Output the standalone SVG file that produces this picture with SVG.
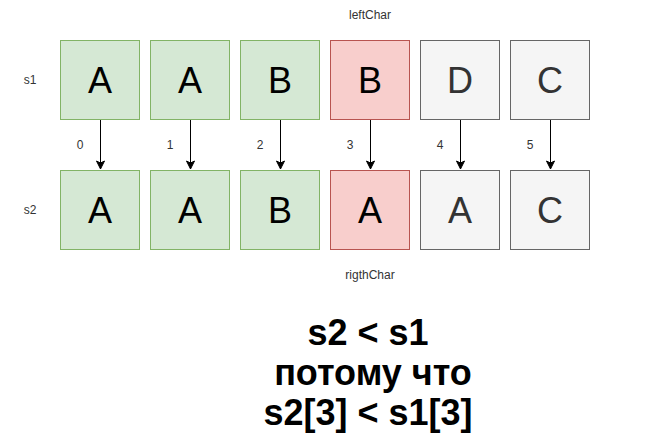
<svg xmlns="http://www.w3.org/2000/svg" width="667" height="441" viewBox="0 0 667 441">
<style>
.g{fill:#d5e8d4;stroke:#82b366;stroke-width:1}
.r{fill:#f8cecc;stroke:#b85450;stroke-width:1}
.n{fill:#f5f5f5;stroke:#666666;stroke-width:1}
.big{font-family:"Liberation Sans",Arial,sans-serif;font-size:36px;text-anchor:middle;dominant-baseline:central}
.dark{fill:#000}
.gray{fill:#333333}
.lbl{font-family:"Liberation Sans",Arial,sans-serif;font-size:12px;fill:#333333;text-anchor:middle;dominant-baseline:central}
.res{font-family:"Liberation Sans",Arial,sans-serif;font-size:36px;font-weight:bold;fill:#000;text-anchor:middle}
.edge{stroke:#000;stroke-width:1;fill:none}
</style>
<defs>
<marker id="arr" markerWidth="10" markerHeight="10" viewBox="0 0 10 10" refX="9" refY="5" orient="auto" markerUnits="userSpaceOnUse">
<path d="M1,1 L9,5 L1,9 L3,5 Z" fill="#000" stroke="#000" stroke-width="1"/>
</marker>
</defs>
<g id="labels">
<text class="lbl" x="30" y="80">s1</text>
<text class="lbl" x="30" y="210">s2</text>
<text class="lbl" x="370" y="15">leftChar</text>
<text class="lbl" x="370" y="275">rigthChar</text>
<text class="lbl" x="80" y="145">0</text>
<text class="lbl" x="170" y="145">1</text>
<text class="lbl" x="260" y="145">2</text>
<text class="lbl" x="350" y="145">3</text>
<text class="lbl" x="440" y="145">4</text>
<text class="lbl" x="530" y="145">5</text>
</g>
<g id="s1-0"><rect class="g" x="60.5" y="40.5" width="79" height="79"/><text class="big dark" x="100" y="80">A</text></g>
<g id="s1-1"><rect class="g" x="150.5" y="40.5" width="79" height="79"/><text class="big dark" x="190" y="80">A</text></g>
<g id="s1-2"><rect class="g" x="240.5" y="40.5" width="79" height="79"/><text class="big dark" x="280" y="80">B</text></g>
<g id="s1-3"><rect class="r" x="330.5" y="40.5" width="79" height="79"/><text class="big dark" x="370" y="80">B</text></g>
<g id="s1-4"><rect class="n" x="420.5" y="40.5" width="79" height="79"/><text class="big gray" x="460" y="80">D</text></g>
<g id="s1-5"><rect class="n" x="510.5" y="40.5" width="79" height="79"/><text class="big gray" x="550" y="80">C</text></g>
<g id="s2-0"><rect class="g" x="60.5" y="170.5" width="79" height="79"/><text class="big dark" x="100" y="210">A</text></g>
<g id="s2-1"><rect class="g" x="150.5" y="170.5" width="79" height="79"/><text class="big dark" x="190" y="210">A</text></g>
<g id="s2-2"><rect class="g" x="240.5" y="170.5" width="79" height="79"/><text class="big dark" x="280" y="210">B</text></g>
<g id="s2-3"><rect class="r" x="330.5" y="170.5" width="79" height="79"/><text class="big dark" x="370" y="210">A</text></g>
<g id="s2-4"><rect class="n" x="420.5" y="170.5" width="79" height="79"/><text class="big gray" x="460" y="210">A</text></g>
<g id="s2-5"><rect class="n" x="510.5" y="170.5" width="79" height="79"/><text class="big gray" x="550" y="210">C</text></g>
<g id="connectors">
<line class="edge" x1="100.5" y1="120" x2="100.5" y2="169" marker-end="url(#arr)"/>
<line class="edge" x1="190.5" y1="120" x2="190.5" y2="169" marker-end="url(#arr)"/>
<line class="edge" x1="280.5" y1="120" x2="280.5" y2="169" marker-end="url(#arr)"/>
<line class="edge" x1="370.5" y1="120" x2="370.5" y2="169" marker-end="url(#arr)"/>
<line class="edge" x1="460.5" y1="120" x2="460.5" y2="169" marker-end="url(#arr)"/>
<line class="edge" x1="550.5" y1="120" x2="550.5" y2="169" marker-end="url(#arr)"/>
</g>
<g id="result">
<text class="res" x="368" y="345">s2 &lt; s1</text>
<text class="res" x="368" y="385" xml:space="preserve" style="white-space:pre"> потому что</text>
<text class="res" x="368" y="425">s2[3] &lt; s1[3]</text>
</g>
</svg>
